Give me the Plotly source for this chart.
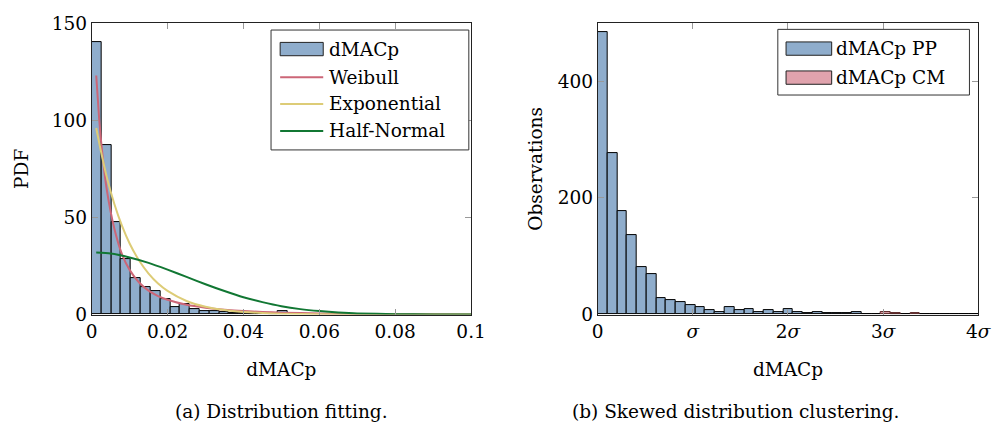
import plotly.graph_objects as go

# ---------------- data ----------------
# (a) histogram of dMACp (PDF scale), bins from 0
left_bin_width = 0.002587
left_hist = [140.4, 87.2, 47.5, 28.6, 18.6, 13.9, 12.1, 8.2, 4.1, 5.5,
             2.8, 2.0, 2.0, 1.1, 0.8, 0.6, 0.5, 0.6, 0.3, 1.8]

weibull_x = [0.0012, 0.002, 0.0027, 0.004, 0.006, 0.008, 0.01, 0.0125, 0.015, 0.0175,
             0.02, 0.025, 0.03, 0.035, 0.04, 0.045, 0.05, 0.06, 0.07, 0.08, 0.09, 0.1]
weibull_y = [123, 100, 85, 64, 44, 31, 23, 16.5, 12.3, 9.5,
             7.6, 5.0, 3.5, 2.5, 1.8, 1.35, 1.0, 0.55, 0.3, 0.17, 0.1, 0.06]

expo_x = [0.0012, 0.0025, 0.004, 0.006, 0.008, 0.01, 0.0125, 0.015, 0.0175, 0.02,
          0.025, 0.03, 0.035, 0.04, 0.045, 0.05, 0.06, 0.07, 0.08, 0.1]
expo_y = [96, 83.5, 70.6, 56.8, 45.6, 36.6, 27.8, 21.1, 16.0, 12.2,
          7.0, 4.0, 2.3, 1.35, 0.8, 0.45, 0.15, 0.05, 0.02, 0.0]

halfn_x = [0.0012, 0.005, 0.01, 0.015, 0.02, 0.025, 0.03, 0.035, 0.04, 0.045,
           0.05, 0.055, 0.06, 0.065, 0.07, 0.08, 0.09, 0.1]
halfn_y = [31.9, 31.4, 29.4, 26.6, 23.1, 19.4, 15.6, 12.1, 8.9, 6.4,
           4.3, 2.8, 1.8, 1.1, 0.6, 0.2, 0.05, 0.01]

left_xticks = [0, 0.02, 0.04, 0.06, 0.08, 0.1]
left_xticklabels = ["0", "0.02", "0.04", "0.06", "0.08", "0.1"]
left_yticks = [0, 50, 100, 150]

# (b) observations per bin, x in units of sigma
right_bin_width = 0.10267
pp_counts = [485, 277, 178, 137, 81, 70, 29, 24.5, 22, 16.5,
             13.5, 7.5, 3.8, 13.5, 7.3, 9.3, 5, 7.2, 5, 9.8,
             4.4, 3, 4.4, 3, 2, 2, 4.4, 1, 1.5, None,
             1, 1, None, 1, 1, 1, 1, 1, 1]
cm_counts = [None] * 29 + [4, 2, None, 2.5] + [None] * 6

right_xticks = [0, 1, 2, 3, 4]
right_xticklabels = ["0", "<i>σ</i>", "2<i>σ</i>", "3<i>σ</i>", "4<i>σ</i>"]
right_yticks = [0, 200, 400]

# ---------------- style ----------------
W, H = 1005, 434
FONT = "DejaVu Serif"
FS = 18.5
BLUE_FILL = "#8FADCC"
PINK_FILL = "#E0A3AD"
PINK = "#CC6677"
YELLOW = "#DDCC77"
GREEN = "#117733"


def px(x):
    return x / W


def py(y):
    return 1 - y / H


fig = go.Figure()

left_centers = [(i + 0.5) * left_bin_width for i in range(len(left_hist))]
fig.add_trace(go.Bar(x=left_centers, y=left_hist, width=left_bin_width,
                     marker=dict(color=BLUE_FILL, line=dict(color="black", width=1)),
                     xaxis="x", yaxis="y", showlegend=False))
for xs, ys, col in [(weibull_x, weibull_y, PINK), (expo_x, expo_y, YELLOW),
                    (halfn_x, halfn_y, GREEN)]:
    fig.add_trace(go.Scatter(x=xs, y=ys, mode="lines",
                             line=dict(color=col, width=2, shape="spline", smoothing=0.6),
                             xaxis="x", yaxis="y", showlegend=False))

right_centers = [(i + 0.5) * right_bin_width for i in range(len(pp_counts))]
fig.add_trace(go.Bar(x=right_centers, y=pp_counts, width=right_bin_width,
                     marker=dict(color=BLUE_FILL, line=dict(color="black", width=1)),
                     xaxis="x2", yaxis="y2", showlegend=False))
fig.add_trace(go.Bar(x=right_centers, y=cm_counts, width=right_bin_width,
                     marker=dict(color=PINK_FILL, line=dict(color="#552222", width=1)),
                     xaxis="x2", yaxis="y2", showlegend=False))

axis_common = dict(showline=True, linecolor="#222", linewidth=1, mirror="ticks",
                   ticks="inside", ticklen=6, tickcolor="#999", tickwidth=1,
                   showgrid=False, zeroline=False,
                   tickfont=dict(family=FONT, size=FS, color="black"))
title_font = dict(family=FONT, size=FS, color="black")

ydom = [py(319), py(12.7)]
fig.update_layout(
    width=W, height=H, margin=dict(l=0, r=0, t=0, b=0),
    paper_bgcolor="white", plot_bgcolor="white",
    barmode="overlay", bargap=0,
    xaxis=dict(domain=[px(87.5), px(475)], range=[0, 0.1], tickvals=left_xticks,
               ticktext=left_xticklabels, anchor="y",
               title=dict(text="dMACp", font=title_font, standoff=22),
               **axis_common),
    yaxis=dict(domain=ydom, range=[0, 150], tickvals=left_yticks, anchor="x",
               title=dict(text="PDF", font=title_font, standoff=18),
               **axis_common),
    xaxis2=dict(domain=[px(604.3), px(993)], range=[0, 4], tickvals=right_xticks,
                ticktext=right_xticklabels, anchor="y2",
                title=dict(text="dMACp", font=title_font, standoff=22),
                **axis_common),
    yaxis2=dict(domain=ydom, range=[0, 500], tickvals=right_yticks, anchor="x2",
                title=dict(text="Observations", font=title_font, standoff=10),
                **axis_common),
)

# ---------------- custom legends ----------------
shapes = []
annotations = []


def legend_box(x0, y0, x1, y1):
    shapes.append(dict(type="rect", xref="paper", yref="paper", x0=px(x0), x1=px(x1),
                       y0=py(y1), y1=py(y0), line=dict(color="#333", width=1),
                       fillcolor="white", layer="above"))


def legend_patch(x0, yc, x1, fill, edge):
    shapes.append(dict(type="rect", xref="paper", yref="paper", x0=px(x0), x1=px(x1),
                       y0=py(yc + 7), y1=py(yc - 7), line=dict(color=edge, width=1),
                       fillcolor=fill, layer="above"))


def legend_line(x0, yc, x1, col):
    shapes.append(dict(type="line", xref="paper", yref="paper", x0=px(x0), x1=px(x1),
                       y0=py(yc), y1=py(yc), line=dict(color=col, width=2), layer="above"))


def legend_text(x, yc, txt):
    annotations.append(dict(xref="paper", yref="paper", x=px(x), y=py(yc), text=txt,
                            showarrow=False, xanchor="left", yanchor="middle",
                            font=dict(family=FONT, size=FS, color="black")))


legend_box(270.7, 20, 472.7, 146)
legend_patch(280, 40, 324, BLUE_FILL, "#222")
legend_line(280, 69.5, 324, PINK)
legend_line(280, 97.7, 324, YELLOW)
legend_line(280, 126, 324, GREEN)
legend_text(328, 40, "dMACp")
legend_text(328, 69.5, "Weibull")
legend_text(328, 97.7, "Exponential")
legend_text(328, 126, "Half-Normal")

legend_box(788.3, 19.3, 984, 88.3)
legend_patch(796.7, 39.5, 843.3, BLUE_FILL, "#222")
legend_patch(796.7, 70, 843.3, PINK_FILL, "#222")
legend_text(846, 39.5, "dMACp PP")
legend_text(846, 70, "dMACp CM")

annotations.append(dict(xref="paper", yref="paper", x=px(281), y=py(421),
                        text="(a) Distribution fitting.", showarrow=False,
                        xanchor="center", yanchor="middle",
                        font=dict(family=FONT, size=FS, color="black")))
annotations.append(dict(xref="paper", yref="paper", x=px(745), y=py(421),
                        text="(b) Skewed distribution clustering.", showarrow=False,
                        xanchor="center", yanchor="middle",
                        font=dict(family=FONT, size=FS, color="black")))

fig.update_layout(shapes=shapes, annotations=annotations)
fig.write_html("out.html")
